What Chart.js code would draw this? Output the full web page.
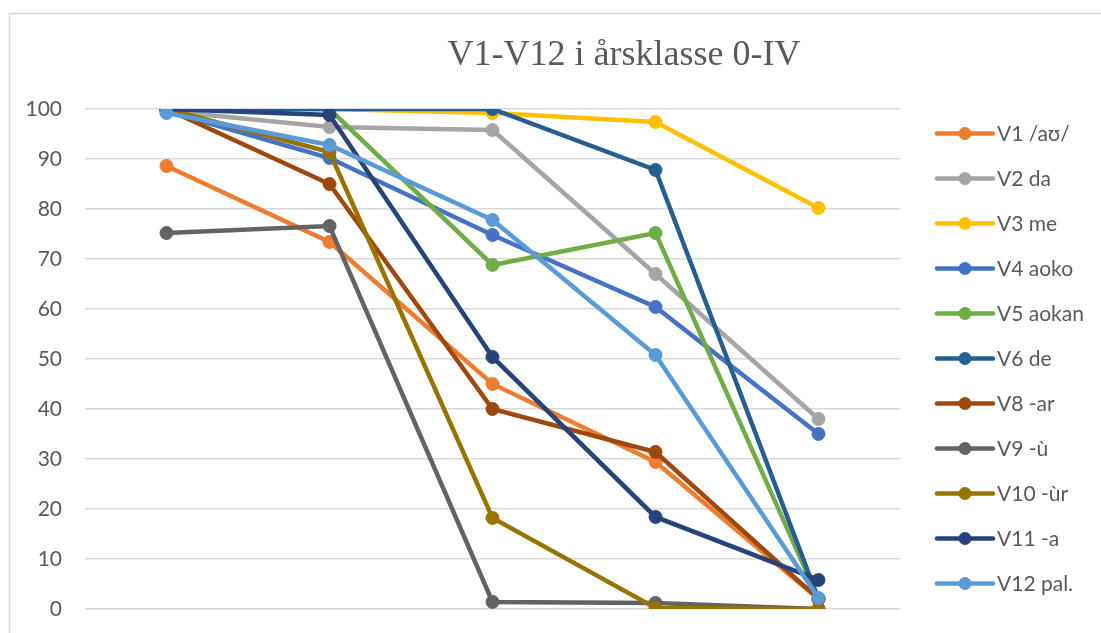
<!DOCTYPE html>
<html>
<head>
<meta charset="utf-8">
<script src="https://cdn.jsdelivr.net/npm/chart.js@4/dist/chart.umd.min.js"></script>
<style>
  html, body { margin: 0; padding: 0; background: #ffffff; overflow: hidden; }
  #c { display: block; }
</style>
</head>
<body>
<canvas id="c" width="1101" height="633"></canvas>
<script>
const titleText = "V1-V12 i årsklasse 0-IV";
const categories = ["0", "I", "II", "III", "IV"];
const yTicks = [0, 10, 20, 30, 40, 50, 60, 70, 80, 90, 100];

const seriesNames = ["V1 /aʊ/", "V2 da", "V3 me", "V4 aoko", "V5 aokan", "V6 de", "V8 -ar", "V9 -ù", "V10 -ùr", "V11 -a", "V12 pal."];
const seriesColors = ["#ED7D31", "#A5A5A5", "#FFC000", "#4472C4", "#70AD47", "#255E91", "#9E480E", "#636363", "#997300", "#264478", "#5B9BD5"];

const V1  = [88.6, 73.4, 45.0, 29.4, 2.0];
const V2  = [99.6, 96.4, 95.8, 67.0, 38.0];
const V3  = [100, 100, 99.2, 97.4, 80.2];
const V4  = [99.6, 90.2, 74.8, 60.4, 35.0];
const V5  = [100, 100, 68.8, 75.2, 2.0];
const V6  = [100, 100, 100, 87.8, 2.0];
const V8  = [100, 85.0, 40.0, 31.4, 2.0];
const V9  = [75.2, 76.6, 1.4, 1.2, 0];
const V10 = [100, 91.4, 18.2, 0.2, 0];
const V11 = [100, 98.8, 50.4, 18.4, 5.8];
const V12 = [99.2, 92.8, 77.8, 50.8, 2.2];
const seriesValues = [V1, V2, V3, V4, V5, V6, V8, V9, V10, V11, V12];

const TEXT_COLOR = "#595959";

const datasets = seriesValues.map((vals, i) => ({
  label: seriesNames[i],
  data: vals,
  borderColor: seriesColors[i],
  backgroundColor: seriesColors[i],
  pointBackgroundColor: seriesColors[i],
  pointBorderColor: seriesColors[i],
  pointBorderWidth: 1,
  pointRadius: 6.5,
  borderWidth: 4.5,
  tension: 0,
  fill: false,
  order: seriesValues.length - i
}));

const framePlugin = {
  id: 'frame',
  beforeDraw(chart) {
    const ctx = chart.ctx;
    ctx.save();
    ctx.fillStyle = '#ffffff';
    ctx.fillRect(0, 0, chart.width, chart.height);
    ctx.strokeStyle = '#D9D9D9';
    ctx.lineWidth = 1.5;
    ctx.strokeRect(9.5, 13.5, 1200, 700);
    ctx.restore();
  },
  afterDraw(chart) {
    const ctx = chart.ctx;
    ctx.save();
    // title
    ctx.fillStyle = TEXT_COLOR;
    ctx.font = '36px "Liberation Serif", "DejaVu Serif", serif';
    ctx.textAlign = 'center';
    ctx.textBaseline = 'middle';
    ctx.fillText(titleText, 624, 56);
    // legend
    const x0 = 937, x1 = 993, mx = 965, yStart = 133.5, step = 45;
    ctx.font = '21px Lato, "Open Sans", sans-serif';
    ctx.textAlign = 'left';
    chart.data.datasets.forEach((ds, i) => {
      const y = yStart + i * step;
      ctx.strokeStyle = ds.borderColor;
      ctx.lineWidth = 4.5;
      ctx.lineCap = 'round';
      ctx.beginPath();
      ctx.moveTo(x0, y);
      ctx.lineTo(x1, y);
      ctx.stroke();
      ctx.fillStyle = ds.borderColor;
      ctx.beginPath();
      ctx.arc(mx, y, 6.5, 0, Math.PI * 2);
      ctx.fill();
      ctx.fillStyle = TEXT_COLOR;
      ctx.fillText(ds.label, 997, y + 1);
    });
    ctx.restore();
  }
};

new Chart(document.getElementById('c'), {
  type: 'line',
  data: { labels: categories, datasets },
  options: {
    responsive: false,
    animation: false,
    devicePixelRatio: 1,
    layout: { padding: { left: 0, right: 201, top: 109, bottom: 0 } },
    plugins: {
      legend: { display: false },
      title: { display: false },
      tooltip: { enabled: false }
    },
    scales: {
      x: {
        type: 'category',
        offset: true,
        display: false
      },
      y: {
        min: 0,
        max: 100,
        afterFit(scale) { scale.width = 85; },
        afterBuildTicks(scale) { scale.ticks = yTicks.map(v => ({ value: v })); },
        border: { display: false },
        grid: { color: '#D9D9D9', lineWidth: 1.5, drawTicks: false },
        ticks: {
          padding: 23,
          color: TEXT_COLOR,
          font: { family: 'Lato, "Open Sans", sans-serif', size: 21, lineHeight: 0.1 }
        }
      }
    }
  },
  plugins: [framePlugin]
});
</script>
</body>
</html>
